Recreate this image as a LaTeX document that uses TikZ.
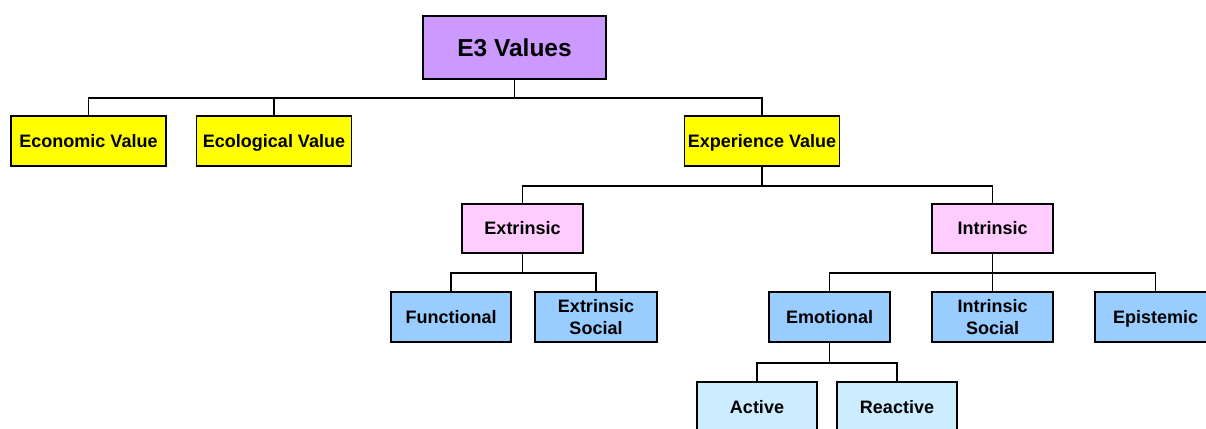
\documentclass[tikz,border=0pt]{standalone}
\usepackage{fontspec}
\setmainfont{Liberation Sans}
\begin{document}
\begin{tikzpicture}[x=1pt,y=-1pt,
  box/.style={draw=black,line width=1.9pt,inner sep=0pt,align=center,
    minimum height=50pt,font=\fontsize{18}{21.5}\selectfont\bfseries},
  oneline/.style={text height=12.9pt,text depth=0pt},
  link/.style={draw=black,line width=1.9pt},
  rootbox/.style={box,fill=rootpurple,minimum width=183pt,minimum height=63pt,
    font=\fontsize{24.5}{28}\selectfont\bfseries,text height=17.5pt,text depth=0pt},
  valuebox/.style={box,oneline,fill=valueyellow,minimum width=155pt},
  kindbox/.style={box,oneline,fill=kindpink,minimum width=121pt,minimum height=49pt},
  typebox/.style={box,fill=typeblue,minimum width=121pt},
  modebox/.style={box,oneline,fill=modeblue,minimum width=120pt}]
\definecolor{rootpurple}{HTML}{CC99FF}
\definecolor{valueyellow}{HTML}{FFFF00}
\definecolor{kindpink}{HTML}{FFCCFF}
\definecolor{typeblue}{HTML}{99CCFF}
\definecolor{modeblue}{HTML}{CCECFF}
\useasboundingbox (0,0) rectangle (1206,428);
\fill[white] (0,0) rectangle (1206,428);
\clip (0,0) rectangle (1206,428);

% top level
\node[rootbox] (e3) at (514.5,47.5) {E3 Values};

% three value kinds
\node[valuebox] (econ) at (88.5,141) {Economic Value};
\node[valuebox] (ecol) at (274,141) {Ecological Value};
\node[valuebox] (exper) at (762,141) {Experience Value};

% experience value split
\node[kindbox] (extr) at (522.5,228.5) {Extrinsic};
\node[kindbox] (intr) at (992.5,228.5) {Intrinsic};

% extrinsic branches
\node[typebox,oneline,minimum width=120pt] (func) at (451,317) {Functional};
\node[typebox,minimum width=122pt] (exsoc) at (596,317) {Extrinsic\\Social};

% intrinsic branches
\node[typebox,oneline] (emo) at (829.5,317) {Emotional};
\node[typebox] (insoc) at (992.5,317) {Intrinsic\\Social};
\node[typebox,oneline] (epis) at (1155.5,317) {Epistemic};

% emotional branches
\node[modebox] (act) at (757,407) {Active};
\node[modebox] (react) at (897,407) {Reactive};

% tree connectors
\draw[link] (e3.south) -- ++(0,18) -| (econ.north);
\draw[link] (e3.south) -- ++(0,18) -| (ecol.north);
\draw[link] (e3.south) -- ++(0,18) -| (exper.north);

\draw[link] (exper.south) -- ++(0,19) -| (extr.north);
\draw[link] (exper.south) -- ++(0,19) -| (intr.north);

\draw[link] (extr.south) -- ++(0,19) -| (func.north);
\draw[link] (extr.south) -- ++(0,19) -| (exsoc.north);

\draw[link] (intr.south) -- ++(0,19) -| (emo.north);
\draw[link] (intr.south) -- (insoc.north);
\draw[link] (intr.south) -- ++(0,19) -| (epis.north);

\draw[link] (emo.south) -- ++(0,20) -| (act.north);
\draw[link] (emo.south) -- ++(0,20) -| (react.north);
\end{tikzpicture}
\end{document}
